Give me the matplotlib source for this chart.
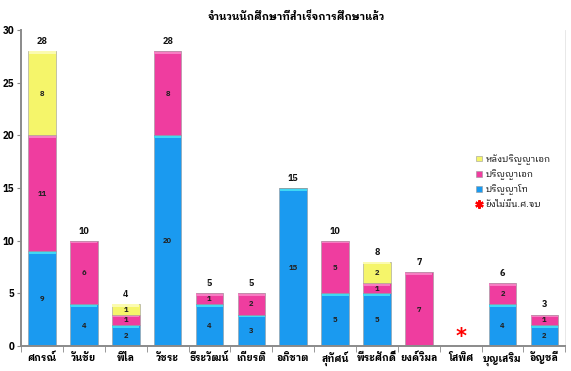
import matplotlib
matplotlib.use("Agg")
import matplotlib.pyplot as plt
import numpy as np
from matplotlib import font_manager

# pick an installed font that has Thai glyphs and a bold face
bold_names = {f.name for f in font_manager.fontManager.ttflist
              if isinstance(f.weight, int) and f.weight >= 600}
THAI = "DejaVu Sans"
for cand in ["Noto Sans Thai Looped", "IBM Plex Sans Thai Looped", "Noto Sans Thai",
             "Sarabun", "Kanit"]:
    if cand in bold_names:
        THAI = cand
        break
plt.rcParams["font.family"] = [THAI, "DejaVu Sans"]

TITLE = "จำนวนนักศึกษาที่สำเร็จการศึกษาแล้ว"
advisors = ["ศกรณ์", "วันชัย", "พิไล", "วัชระ", "ธีระวัฒน์", "เกียรติ", "อภิชาต",
            "สุทัศน์", "พีระศักดิ์", "ยงค์วิมล", "โสพิศ", "บุญเสริม", "อัญชลี"]
masters = [9, 4, 2, 20, 4, 3, 15, 5, 5, 0, 0, 4, 2]
phd = [11, 6, 1, 8, 1, 2, 0, 5, 1, 7, 0, 2, 1]
postdoc = [8, 0, 1, 0, 0, 0, 0, 0, 2, 0, 0, 0, 0]
no_grad = ["โสพิศ"]

series = [
    ("ปริญญาโท", masters, "#1a9af0", "#3fd8f5"),
    ("ปริญญาเอก", phd, "#ef3d9f", "#f77dc3"),
    ("หลังปริญญาเอก", postdoc, "#f5f56a", "#fbfbb0"),
]

fig = plt.figure(figsize=(5.71, 3.71), dpi=100)
ax = fig.add_axes([0.037, 0.067, 0.953, 0.852])

x = np.arange(len(advisors))
width = 0.66
bottom = np.zeros(len(advisors))
handles = []
for label, vals, color, light in series:
    vals = np.array(vals, dtype=float)
    h = ax.bar(x, vals, width, bottom=bottom, color=color,
               edgecolor="#9a9a9a", linewidth=0.4, label=label)
    # lighter top strip, like the 3D bevel in the original
    mask = vals > 0
    ax.bar(x[mask], 0.25, width * 0.98, bottom=(bottom + vals)[mask] - 0.25,
           color=light, linewidth=0)
    for xi, b, v in zip(x, bottom, vals):
        if v > 0:
            ax.text(xi, b + v / 2, f"{int(v)}", ha="center", va="center",
                    fontsize=5.5, fontweight="bold", color="#222222")
    handles.append(h)
    bottom += vals

for xi, tot in zip(x, bottom):
    if tot > 0:
        ax.text(xi, tot + 0.5, f"{int(tot)}", ha="center", va="bottom",
                fontsize=6.5, fontweight="bold", color="#111111")

for name in no_grad:
    i = advisors.index(name)
    ax.text(i, 0.9, "*", ha="center", va="center", color="red",
            fontsize=15, fontweight="bold", family="DejaVu Sans")

ax.set_xlim(-0.5, len(advisors) - 0.5)
ax.set_ylim(0, 30)
ax.set_yticks(range(0, 31, 5))
ax.set_yticklabels([str(v) for v in range(0, 31, 5)], fontsize=7,
                   fontweight="bold")
ax.set_xticks(x)
ax.set_xticklabels(advisors, fontsize=7, fontweight="bold")
ax.tick_params(axis="x", length=0, pad=11)
for t in ax.get_xticklabels():
    t.set_verticalalignment("baseline")
ax.set_xticks(np.arange(-0.5, len(advisors), 1), minor=True)
ax.tick_params(axis="x", which="minor", length=4, color="#888888")
ax.tick_params(axis="y", length=3, color="#888888", pad=2)
ax.spines["top"].set_visible(False)
ax.spines["right"].set_color("#e4e4e4")
ax.spines["right"].set_linewidth(0.6)
for s in ["left", "bottom"]:
    ax.spines[s].set_color("#8a8a8a")
    ax.spines[s].set_linewidth(1.4)

star = plt.Line2D([], [], marker=(6, 2, 0), color="red", linestyle="none",
                  markersize=6, markeredgewidth=1.6, label="ยังไม่มีน.ศ.จบ")
leg_handles = [handles[2], handles[1], handles[0], star]
ax.legend(handles=leg_handles, loc="upper left", bbox_to_anchor=(0.83, 0.62),
          frameon=False, fontsize=6.5, handlelength=0.6, handleheight=0.6,
          handletextpad=0.4, labelspacing=0.5, borderaxespad=0)

fig.text(0.52, 0.955, TITLE, ha="center", va="center", fontsize=7.5,
         fontweight="bold")

fig.savefig("out.png", dpi=100)
